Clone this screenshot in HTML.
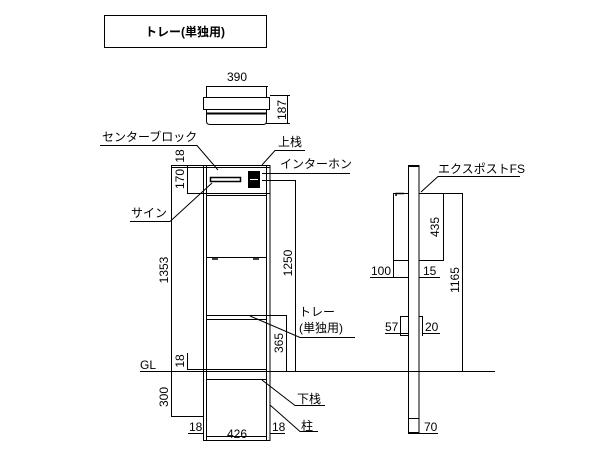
<!DOCTYPE html>
<html><head><meta charset="utf-8"><style>
html,body{margin:0;padding:0;background:#fff;}
svg{display:block;}
text{font-family:"Liberation Sans","Noto Sans CJK JP",sans-serif;font-size:12px;fill:#000;}
</style></head><body>
<svg width="608" height="456" viewBox="0 0 608 456" xmlns="http://www.w3.org/2000/svg">
<g fill="none" stroke="#000" stroke-width="1">
<rect x="104.5" y="15.5" width="162" height="32"/>
<!-- top view -->
<line x1="206" y1="86.5" x2="268" y2="86.5"/>
<rect x="206.5" y="86.5" width="60" height="11"/>
<rect x="203.5" y="97.5" width="66" height="12"/>
<path d="M206.5 109.5 V121 Q206.5 124.5 210 124.5 H263 Q266.5 124.5 266.5 121 V109.5"/>
<line x1="207" y1="113.5" x2="266" y2="113.5" stroke-width="2"/>
<line x1="270" y1="95.5" x2="290" y2="95.5"/>
<line x1="266" y1="123.5" x2="290" y2="123.5"/>
<line x1="287.5" y1="95" x2="287.5" y2="124"/>
<!-- main unit -->
<rect x="203.5" y="165.5" width="66.5" height="275"/>
<line x1="206.5" y1="166" x2="206.5" y2="440"/>
<line x1="266.5" y1="166" x2="266.5" y2="440"/>
<line x1="171" y1="165.5" x2="270" y2="165.5"/>
<line x1="171" y1="167.5" x2="270" y2="167.5"/>
<line x1="187" y1="193.5" x2="270" y2="193.5"/>
<line x1="187.5" y1="165" x2="187.5" y2="194"/>
<line x1="207" y1="195.5" x2="266" y2="195.5"/>
<rect x="210.5" y="177.5" width="30" height="4" stroke-width="1.5"/>
<rect x="248.5" y="171.5" width="11" height="16" fill="#000"/>
<line x1="250" y1="179.5" x2="258" y2="179.5" stroke="#fff"/>
<line x1="207" y1="257.5" x2="266" y2="257.5"/>
<line x1="212" y1="259" x2="218" y2="259" stroke-width="1.5"/>
<line x1="253" y1="259" x2="259" y2="259" stroke-width="1.5"/>
<line x1="207" y1="315.5" x2="266" y2="315.5"/>
<line x1="207" y1="319.5" x2="266" y2="319.5"/>
<line x1="187" y1="369.5" x2="266" y2="369.5"/>
<line x1="187.5" y1="353" x2="187.5" y2="370"/>
<line x1="207" y1="379.5" x2="266" y2="379.5"/>
<line x1="207" y1="436.5" x2="266" y2="436.5"/>
<line x1="140" y1="371.5" x2="495" y2="371.5"/>
<line x1="171.5" y1="165" x2="171.5" y2="416"/>
<line x1="171" y1="416.5" x2="203" y2="416.5"/>
<line x1="262" y1="180.5" x2="296" y2="180.5"/>
<line x1="295.5" y1="180" x2="295.5" y2="371"/>
<line x1="266" y1="315.5" x2="287" y2="315.5"/>
<line x1="286.5" y1="315" x2="286.5" y2="371"/>
<!-- leaders -->
<polyline points="100,145.5 197,145.5 218,170"/>
<polyline points="130,221.5 170,221.5 212,183"/>
<polyline points="305,150.5 275,150.5 262,165"/>
<polyline points="350,173.5 262,173.5"/>
<polyline points="250,316 300,337.5 355,337.5"/>
<polyline points="262,380 295,405.5 325,405.5"/>
<polyline points="270,405 300,431.5 318,431.5"/>
<line x1="188" y1="433.5" x2="203" y2="433.5"/>
<line x1="270" y1="433.5" x2="285" y2="433.5"/>
<!-- right side -->
<rect x="408.5" y="165.5" width="10.5" height="267"/>
<line x1="408" y1="166" x2="419" y2="166" stroke-width="2"/>
<line x1="408" y1="418.5" x2="419" y2="418.5"/>
<rect x="393.5" y="193.5" width="15" height="67"/>
<polyline points="396,196 396,193.5 404,193.5" stroke-width="1.5"/>
<line x1="419" y1="193.5" x2="463" y2="193.5"/>
<line x1="443.5" y1="193" x2="443.5" y2="261"/>
<line x1="419" y1="260.5" x2="444" y2="260.5"/>
<line x1="462.5" y1="193" x2="462.5" y2="371"/>
<line x1="393.5" y1="260" x2="393.5" y2="278"/>
<line x1="370" y1="277.5" x2="408" y2="277.5"/>
<line x1="419" y1="277.5" x2="440" y2="277.5"/>
<rect x="400.5" y="316.5" width="8" height="19"/>
<polyline points="419,316.5 422.5,316.5 422.5,336"/>
<line x1="385" y1="333.5" x2="408" y2="333.5"/>
<line x1="422" y1="333.5" x2="440" y2="333.5"/>
<line x1="408" y1="433.5" x2="438" y2="433.5"/>
<polyline points="520,176.5 438,176.5 421,192"/>
</g>
<text x="185" y="36" text-anchor="middle" font-weight="bold">トレー(単独用)</text>
<text x="237" y="81" text-anchor="middle">390</text>
<text transform="translate(286,110) rotate(-90)" text-anchor="middle">187</text>
<text x="102" y="141">センターブロック</text>
<text x="278" y="146">上栈</text>
<text x="280" y="168">インターホン</text>
<text x="131" y="217">サイン</text>
<text transform="translate(184,156) rotate(-90)" text-anchor="middle">18</text>
<text transform="translate(184,179) rotate(-90)" text-anchor="middle">170</text>
<text transform="translate(168,270) rotate(-90)" text-anchor="middle">1353</text>
<text transform="translate(292,263) rotate(-90)" text-anchor="middle">1250</text>
<text transform="translate(283,343) rotate(-90)" text-anchor="middle">365</text>
<text transform="translate(184,361) rotate(-90)" text-anchor="middle">18</text>
<text transform="translate(168,397) rotate(-90)" text-anchor="middle">300</text>
<text x="299" y="316">トレー</text>
<text x="299" y="332">(単独用)</text>
<text x="140" y="369">GL</text>
<text x="297" y="403">下栈</text>
<text x="301" y="430">柱</text>
<text x="189" y="431">18</text>
<text x="272" y="431">18</text>
<text x="237" y="438" text-anchor="middle">426</text>
<text x="438" y="173">エクスポストFS</text>
<text transform="translate(439,227) rotate(-90)" text-anchor="middle">435</text>
<text transform="translate(459,280) rotate(-90)" text-anchor="middle">1165</text>
<text x="371" y="275">100</text>
<text x="423" y="275">15</text>
<text x="385" y="331">57</text>
<text x="425" y="331">20</text>
<text x="424" y="431">70</text>
</svg>
</body></html>
